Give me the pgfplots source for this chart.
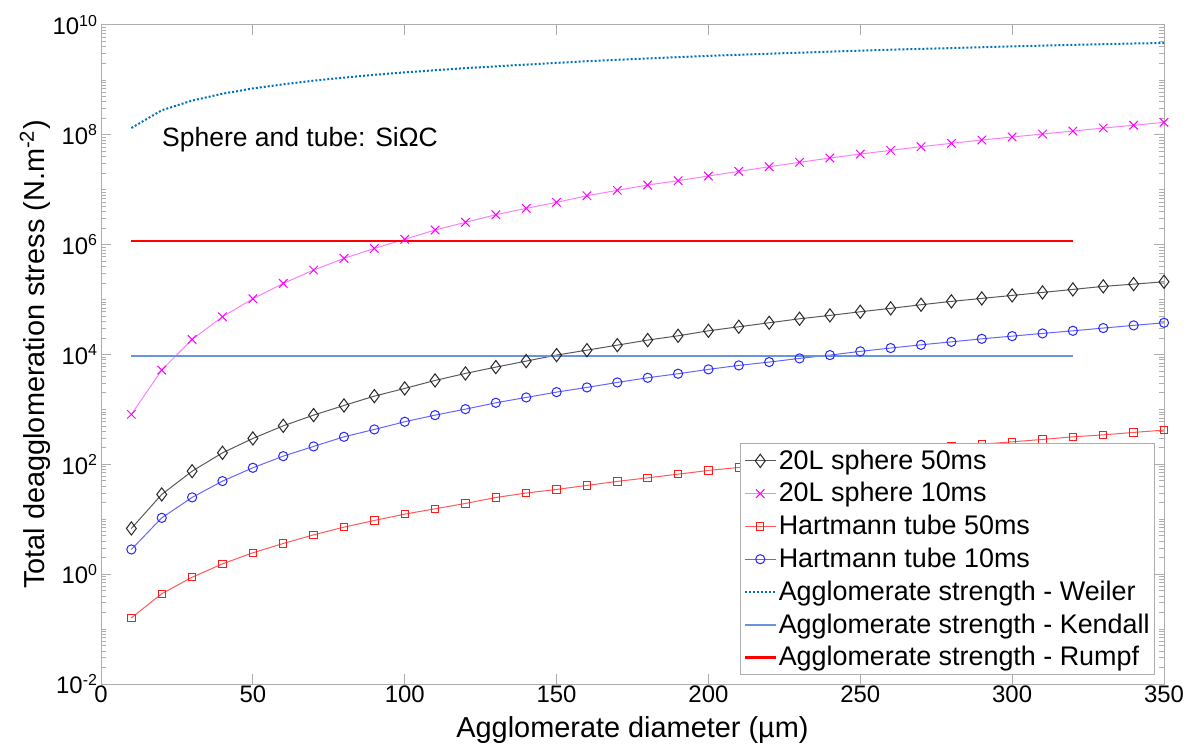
\documentclass[border=0pt]{standalone}
\usepackage{fontspec}
\setmainfont{Liberation Sans}
\usepackage{pgfplots}
\pgfplotsset{compat=1.18}

\definecolor{weiler}{rgb}{0,0.447,0.741}
\definecolor{kendall}{rgb}{0.42,0.58,0.87}
\definecolor{axgray}{gray}{0.68}
\definecolor{mag}{rgb}{1,0,1}
\definecolor{magline}{rgb}{0.98,0.5,0.98}

\begin{document}
\begin{tikzpicture}
\begin{axis}[
  scale only axis,
  width=531.5bp, height=329.5bp,
  ymode=log,
  xmin=0, xmax=350, ymin=1e-2, ymax=1e10,
  xtick={0,50,...,350},
  ytick={1e-2,1e0,1e2,1e4,1e6,1e8,1e10},
  yticklabels={10\textsuperscript{-2},10\textsuperscript{0},10\textsuperscript{2},10\textsuperscript{4},10\textsuperscript{6},10\textsuperscript{8},10\textsuperscript{10}},
  minor ytick={2e-2,3e-2,4e-2,5e-2,6e-2,7e-2,8e-2,9e-2,1e-1,2e-1,3e-1,4e-1,5e-1,6e-1,7e-1,8e-1,9e-1,
    2,3,4,5,6,7,8,9,10,20,30,40,50,60,70,80,90,
    2e2,3e2,4e2,5e2,6e2,7e2,8e2,9e2,1e3,2e3,3e3,4e3,5e3,6e3,7e3,8e3,9e3,
    2e4,3e4,4e4,5e4,6e4,7e4,8e4,9e4,1e5,2e5,3e5,4e5,5e5,6e5,7e5,8e5,9e5,
    2e6,3e6,4e6,5e6,6e6,7e6,8e6,9e6,1e7,2e7,3e7,4e7,5e7,6e7,7e7,8e7,9e7,
    2e8,3e8,4e8,5e8,6e8,7e8,8e8,9e8,1e9,2e9,3e9,4e9,5e9,6e9,7e9,8e9,9e9},
  /pgf/number format/assume math mode=true,
  tick align=inside,
  major tick length=5bp, minor tick length=2.5bp,
  axis line style={axgray, line width=0.5bp},
  every tick/.style={axgray, line width=0.5bp},
  every minor tick/.style={axgray, line width=0.4bp},
  tick label style={font=\fontsize{12}{14}\selectfont, black},
  xticklabel style={yshift=2.5bp},
  yticklabel style={xshift=2bp},
  xlabel={Agglomerate diameter (µm)},
  ylabel={Total deagglomeration stress (N.m\textsuperscript{-2})},
  label style={font=\fontsize{14.5}{16}\selectfont},
  xlabel style={at={(axis description cs:0.5,-0.0815)}, anchor=base},
  ylabel style={at={(axis description cs:-0.062,0.5)}, anchor=center},
  legend cell align=left,
  legend style={at={(axis description cs:1,0)}, anchor=south east, xshift=-4.5bp, yshift=4.5bp,
    font=\fontsize{13.5}{15}\selectfont, draw=axgray, fill=white, inner sep=1.5bp, row sep=2.35bp,
    nodes={inner ysep=1.4bp, inner xsep=1bp}},
  legend image code/.code={\draw[mark repeat=2,mark phase=2] plot coordinates {(0cm,0cm) (0.27cm,0cm) (0.54cm,0cm)};},
  legend entries={20L sphere 50ms, 20L sphere 10ms, Hartmann tube 50ms, Hartmann tube 10ms,
    Agglomerate strength - Weiler, Agglomerate strength - Kendall, Agglomerate strength - Rumpf},
]
\coordinate (bl) at (rel axis cs:0,0);
\coordinate (tr) at (rel axis cs:1,1);

% 20L sphere 50ms
\addplot[color=black!65, line width=0.5bp, mark=diamond, mark size=3.3bp, mark options={solid, black!85, line width=0.5bp}] coordinates {
(10,6.8) (20,28.3) (30,75) (40,162) (50,296) (60,503) (70,787) (80,1180) (90,1746) (100,2410)
(110,3370) (120,4520) (130,5890) (140,7580) (150,9750) (160,1.2e4) (170,1.48e4) (180,1.83e4) (190,2.19e4) (200,2.7e4)
(210,3.2e4) (220,3.78e4) (230,4.47e4) (240,5.15e4) (250,6.0e4) (260,6.92e4) (270,8.05e4) (280,9.27e4) (290,1.05e5) (300,1.19e5)
(310,1.35e5) (320,1.53e5) (330,1.74e5) (340,1.91e5) (350,2.11e5)};

% 20L sphere 10ms
\addplot[color=magline, line width=0.5bp, mark=x, mark size=3bp, mark options={solid, mag, line width=0.5bp}] coordinates {
(10,813) (20,5200) (30,1.88e4) (40,4.86e4) (50,1.035e5) (60,1.97e5) (70,3.44e5) (80,5.62e5) (90,8.55e5) (100,1.25e6)
(110,1.85e6) (120,2.55e6) (130,3.51e6) (140,4.58e6) (150,5.89e6) (160,7.78e6) (170,9.75e6) (180,1.22e7) (190,1.46e7) (200,1.78e7)
(210,2.16e7) (220,2.62e7) (230,3.16e7) (240,3.78e7) (250,4.47e7) (260,5.21e7) (270,6.08e7) (280,7.0e7) (290,8.04e7) (300,9.12e7)
(310,1.035e8) (320,1.17e8) (330,1.33e8) (340,1.49e8) (350,1.69e8)};

% Hartmann tube 50ms
\addplot[color=red!65, line width=0.5bp, mark=square, mark size=1.85bp, mark options={solid, red!90, line width=0.5bp}] coordinates {
(10,0.16) (20,0.44) (30,0.88) (40,1.54) (50,2.45) (60,3.62) (70,5.2) (80,7.18) (90,9.5) (100,12.4)
(110,15.5) (120,19.4) (130,24.9) (140,30) (150,34.9) (160,41.3) (170,48.9) (180,56.8) (190,66.2) (200,77.4)
(210,87.7) (220,100.7) (230,115) (240,131) (250,149) (260,169) (270,191) (280,215) (290,233) (300,257)
(310,284) (320,317) (330,344) (340,381) (350,420)};

% Hartmann tube 10ms
\addplot[color=blue!60, line width=0.5bp, mark=o, mark size=2.3bp, mark options={solid, blue!85, line width=0.5bp}] coordinates {
(10,2.82) (20,10.6) (30,25) (40,49.5) (50,86.5) (60,141) (70,212) (80,317) (90,432) (100,596)
(110,787) (120,1012) (130,1320) (140,1652) (150,2065) (160,2515) (170,3100) (180,3770) (190,4460) (200,5360)
(210,6330) (220,7280) (230,8490) (240,9750) (250,1.14e4) (260,1.31e4) (270,1.5e4) (280,1.7e4) (290,1.93e4) (300,2.16e4)
(310,2.42e4) (320,2.7e4) (330,3.03e4) (340,3.39e4) (350,3.78e4)};

% Weiler
\addplot[color=weiler, line width=1bp, dash pattern=on 1bp off 1bp] coordinates {
(10,1.33e8) (20,2.8e8) (30,4.2e8) (40,5.6e8) (50,7.0e8) (60,8.3e8) (70,9.7e8) (80,1.1e9) (90,1.24e9) (100,1.37e9)
(120,1.64e9) (140,1.9e9) (160,2.19e9) (180,2.46e9) (200,2.74e9) (220,3.0e9) (240,3.27e9) (260,3.55e9) (280,3.8e9)
(300,4.08e9) (320,4.35e9) (340,4.6e9) (350,4.7e9)};

% Kendall
\addplot[color=kendall, line width=0.8bp] coordinates {(10,9.5e3) (320,9.5e3)};

% Rumpf
\addplot[color=red, line width=1.2bp] coordinates {(10,1.16e6) (320,1.16e6)};

\node[anchor=base west, inner sep=0, font=\fontsize{13.3}{15}\selectfont] at (axis cs:20,6.07e7) {Sphere and tube: SiΩC};
\end{axis}
\pgfresetboundingbox
\path ([shift={(-50.5bp,-33.5bp)}]bl) rectangle ([shift={(14bp,12.5bp)}]tr);
\end{tikzpicture}
\end{document}
